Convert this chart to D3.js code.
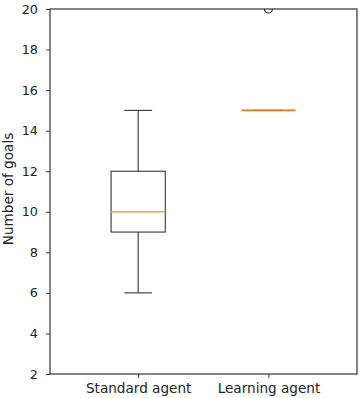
<!DOCTYPE html>
<html><head><meta charset="utf-8">
<script src="https://cdn.jsdelivr.net/npm/d3@7"></script>
<style>body{margin:0;background:#fff}svg{display:block}</style>
</head><body>
<svg id="c" width="360" height="398"></svg>
<script>
const categories = ["Standard agent", "Learning agent"];
const whiskerLow = [6, 15];
const q1 = [9, 15];
const medians = [10, 15];
const q3 = [12, 15];
const whiskerHigh = [15, 15];
const outliers = [[], [20]];
const yTicks = [2, 4, 6, 8, 10, 12, 14, 16, 18, 20];

const svg = d3.select("#c");
const L = 50, R = 357, T = 9, B = 374;
const x = d3.scaleLinear().domain([0.323, 2.68]).range([L, R]);
const y = d3.scaleLinear().domain([2, 20]).range([B, T]);
const font = "DejaVu Sans, sans-serif";
const fsTick = 12.8, fsLab = 13.6;
const boxHalf = 0.208, capHalf = 0.107;

svg.append("defs").append("clipPath").attr("id","clip")
  .append("rect").attr("x",L).attr("y",T).attr("width",R-L).attr("height",B-T);

const g = svg.append("g");
const data = categories.map((c,i)=>({c,i,pos:i+1,lo:whiskerLow[i],q1:q1[i],med:medians[i],q3:q3[i],hi:whiskerHigh[i],out:outliers[i]}));
const stroke = "#222";

data.forEach(d=>{
  const cx = x(d.pos);
  const gg = g.append("g");
  gg.append("line").attr("x1",cx).attr("x2",cx).attr("y1",y(d.q1)).attr("y2",y(d.lo)).attr("stroke",stroke);
  gg.append("line").attr("x1",cx).attr("x2",cx).attr("y1",y(d.q3)).attr("y2",y(d.hi)).attr("stroke",stroke);
  gg.append("line").attr("x1",x(d.pos-capHalf)).attr("x2",x(d.pos+capHalf)).attr("y1",y(d.lo)).attr("y2",y(d.lo)).attr("stroke",stroke);
  gg.append("line").attr("x1",x(d.pos-capHalf)).attr("x2",x(d.pos+capHalf)).attr("y1",y(d.hi)).attr("y2",y(d.hi)).attr("stroke",stroke);
  gg.append("rect").attr("x",x(d.pos-boxHalf)).attr("y",y(d.q3))
    .attr("width",x(d.pos+boxHalf)-x(d.pos-boxHalf)).attr("height",Math.max(0,y(d.q1)-y(d.q3)))
    .attr("fill","none").attr("stroke",stroke);
  gg.append("line").attr("x1",x(d.pos-boxHalf)).attr("x2",x(d.pos+boxHalf)).attr("y1",y(d.med)).attr("y2",y(d.med))
    .attr("stroke", d.q1===d.q3 ? "#d97a22" : "#ff9d3a").attr("stroke-width",1.6);
  gg.selectAll("circle").data(d.out).enter().append("circle")
    .attr("clip-path","url(#clip)")
    .attr("cx",cx).attr("cy",v=>y(v)).attr("r",4)
    .attr("fill","none").attr("stroke",stroke).attr("stroke-width",1.2);
});

svg.append("rect").attr("x",L).attr("y",T).attr("width",R-L).attr("height",B-T)
  .attr("fill","none").attr("stroke","#333").attr("stroke-width",1.2);

const ya = svg.append("g").attr("transform",`translate(${L},0)`)
  .call(d3.axisLeft(y).tickValues(yTicks).tickSize(4).tickPadding(8).tickFormat(d3.format("d")));
ya.select(".domain").remove();
ya.selectAll("line").attr("stroke","#333");
ya.selectAll("text").attr("font-family",font).attr("font-size",fsTick).attr("fill","#222");

const xa = svg.append("g").attr("transform",`translate(0,${B})`)
  .call(d3.axisBottom(x).tickValues([1,2]).tickSize(4).tickFormat(v=>categories[v-1]));
xa.select(".domain").remove();
xa.selectAll("line").attr("stroke","#333");
xa.selectAll("text").attr("font-family",font).attr("font-size",fsLab).attr("fill","#222")
  .attr("y",18.5).attr("dy",0);

svg.append("text").attr("transform",`translate(13,189) rotate(-90)`)
  .attr("text-anchor","middle").attr("font-family",font).attr("font-size",fsLab).attr("fill","#222")
  .text("Number of goals");
</script>
</body></html>
